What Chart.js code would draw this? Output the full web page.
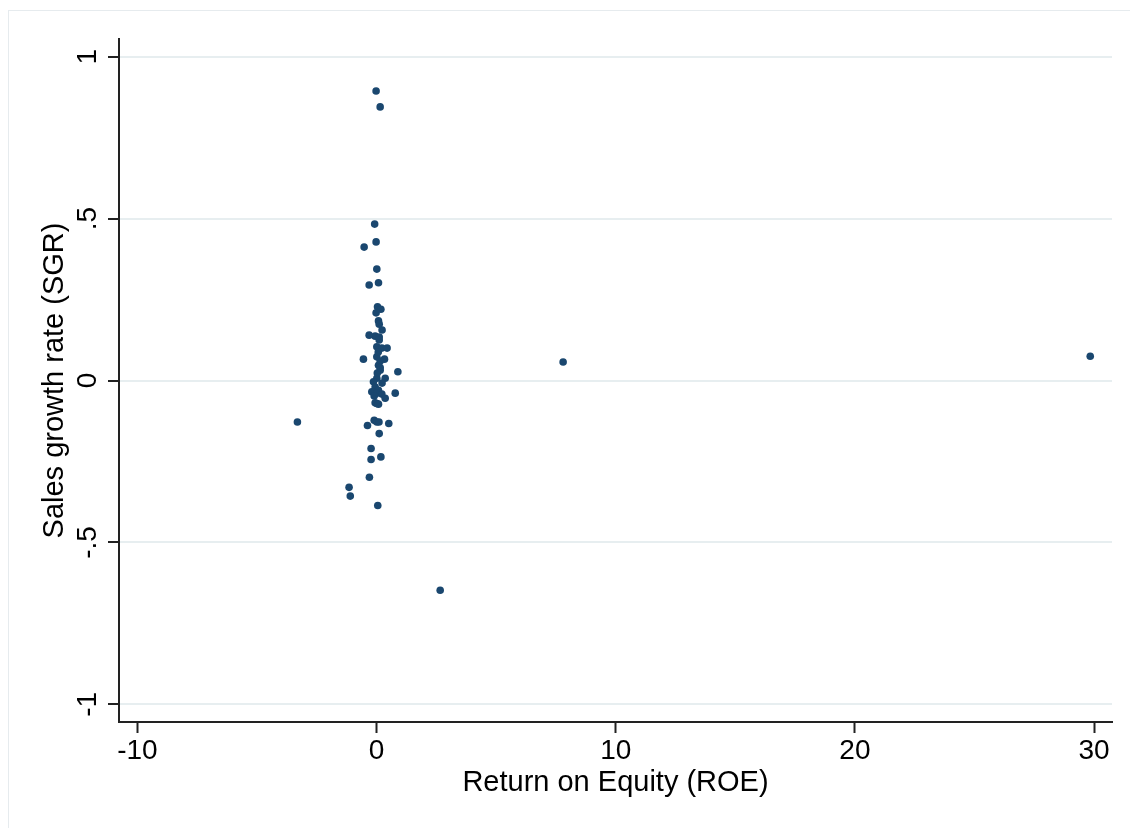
<!DOCTYPE html>
<html>
<head>
<meta charset="utf-8">
<script src="https://cdn.jsdelivr.net/npm/chart.js@4.4.1/dist/chart.umd.min.js"></script>
<style>
    html, body { margin: 0; padding: 0; background: #fff; overflow: hidden; }
    #wrap { position: relative; width: 1130px; height: 828px; }
    #frame { position: absolute; left: 8px; top: 10px; width: 1130px; height: 830px; border: 1px solid #e6ebee; box-sizing: border-box; pointer-events: none; }
    canvas { position: absolute; left: 0; top: 0; }
</style>
</head>
<body>
<div id="wrap">
    <canvas id="chart" width="1130" height="828"></canvas>
    <div id="frame"></div>
</div>
<script>
// ROE (x) and SGR (y)
const roeValues = [
    -0.02, 0.15, -0.08, -0.02, -0.52, 0.01, -0.31, 0.08, 0.04, 0.18,
    0.08, 0.11, -0.06, -0.31, 0.11, 0.01, 0.22, 0.44, -0.55, 0.01,
    0.33, 0.08, 0.15, 0.89, 0.01, 0.36, -0.13, -0.06, 0.08, 0.78,
    -0.20, 0.01, 0.22, 0.36, 0.01, -0.06, 0.08, -3.31, -0.10, -0.38,
    0.01, 0.10, 0.51, 0.11, -0.23, 0.18, -0.23, -0.30, -1.15, -1.10,
    0.05, 2.66, 7.80, 29.84, 0.07, 0.15, 0.03, 0.23, -0.10, 0.11,
    0.23, -0.02, 0.15
];
const sgrValues = [
    0.894, 0.845, 0.483, 0.428, 0.412, 0.344, 0.295, 0.302, 0.228, 0.220,
    0.184, 0.174, 0.137, 0.140, 0.134, 0.104, 0.100, 0.100, 0.066, 0.073,
    0.066, 0.047, 0.032, 0.027, 0.007, 0.007, -0.004, -0.020, -0.030, -0.039,
    -0.035, -0.039, -0.042, -0.055, -0.071, -0.069, -0.073, -0.128, -0.123, -0.139,
    -0.128, -0.128, -0.133, -0.164, -0.210, -0.236, -0.244, -0.299, -0.330, -0.357,
    -0.386, -0.648, 0.057, 0.075, 0.088, 0.060, 0.023, -0.008, -0.048, 0.125,
    0.156, 0.209, 0.040
];

const xTicks = [-10, 0, 10, 20, 30];
const yTicks = [-1, -0.5, 0, 0.5, 1];
const yTickLabels = ['-1', '-.5', '0', '.5', '1'];

const points = roeValues.map((x, i) => ({ x: x, y: sgrValues[i] }));

const fontFamily = '"Liberation Sans", Arial, Helvetica, sans-serif';
const axisColor = '#222222';
const gridColor = '#e7eef0';

// y tick labels are vertical in the reference, so draw them by hand from the scale
const rotatedYLabels = {
    id: 'rotatedYLabels',
    afterDraw(chart) {
        const ctx = chart.ctx;
        const scale = chart.scales.y;
        ctx.save();
        ctx.fillStyle = '#000';
        ctx.font = `28px ${fontFamily}`;
        ctx.textAlign = 'center';
        ctx.textBaseline = 'alphabetic';
        yTicks.forEach((v, i) => {
            const y = scale.getPixelForValue(v);
            ctx.save();
            ctx.translate(95.5, y);
            ctx.rotate(-Math.PI / 2);
            ctx.fillText(yTickLabels[i], 0, 0);
            ctx.restore();
        });
        ctx.restore();
    }
};

new Chart(document.getElementById('chart'), {
    type: 'scatter',
    data: {
        datasets: [{
            data: points,
            backgroundColor: '#1a476f',
            borderColor: '#1a476f',
            borderWidth: 0,
            pointRadius: 3.8,
            pointHoverRadius: 3.8
        }]
    },
    options: {
        responsive: false,
        animation: false,
        layout: { padding: { top: 39, right: 18, left: 0, bottom: 0 } },
        plugins: {
            legend: { display: false },
            tooltip: { enabled: false }
        },
        scales: {
            x: {
                type: 'linear',
                min: -10.77,
                max: 30.75,
                afterBuildTicks: scale => { scale.ticks = xTicks.map(v => ({ value: v })); },
                afterFit: scale => { scale.height = 106; },
                border: { display: true, color: axisColor, width: 2 },
                grid: { drawOnChartArea: false, drawTicks: true, tickLength: 11, tickColor: axisColor, tickWidth: 2 },
                ticks: {
                    color: '#000',
                    padding: 1,
                    maxRotation: 0,
                    font: { family: fontFamily, size: 28 },
                    callback: value => String(value)
                },
                title: {
                    display: true,
                    text: 'Return on Equity (ROE)',
                    color: '#000',
                    font: { family: fontFamily, size: 29 },
                    padding: { top: 0, bottom: 28 }
                }
            },
            y: {
                type: 'linear',
                min: -1.0547,
                max: 1.0547,
                afterBuildTicks: scale => { scale.ticks = yTicks.map(v => ({ value: v })); },
                afterFit: scale => { scale.width = 119; },
                border: { display: true, color: axisColor, width: 2 },
                grid: { color: gridColor, lineWidth: 2, drawTicks: true, tickLength: 11, tickColor: axisColor, tickWidth: 2 },
                ticks: { display: false },
                title: {
                    display: true,
                    text: 'Sales growth rate (SGR)',
                    color: '#000',
                    font: { family: fontFamily, size: 29 },
                    padding: { top: 38, bottom: 0 }
                }
            }
        }
    },
    plugins: [rotatedYLabels]
});
</script>
</body>
</html>
